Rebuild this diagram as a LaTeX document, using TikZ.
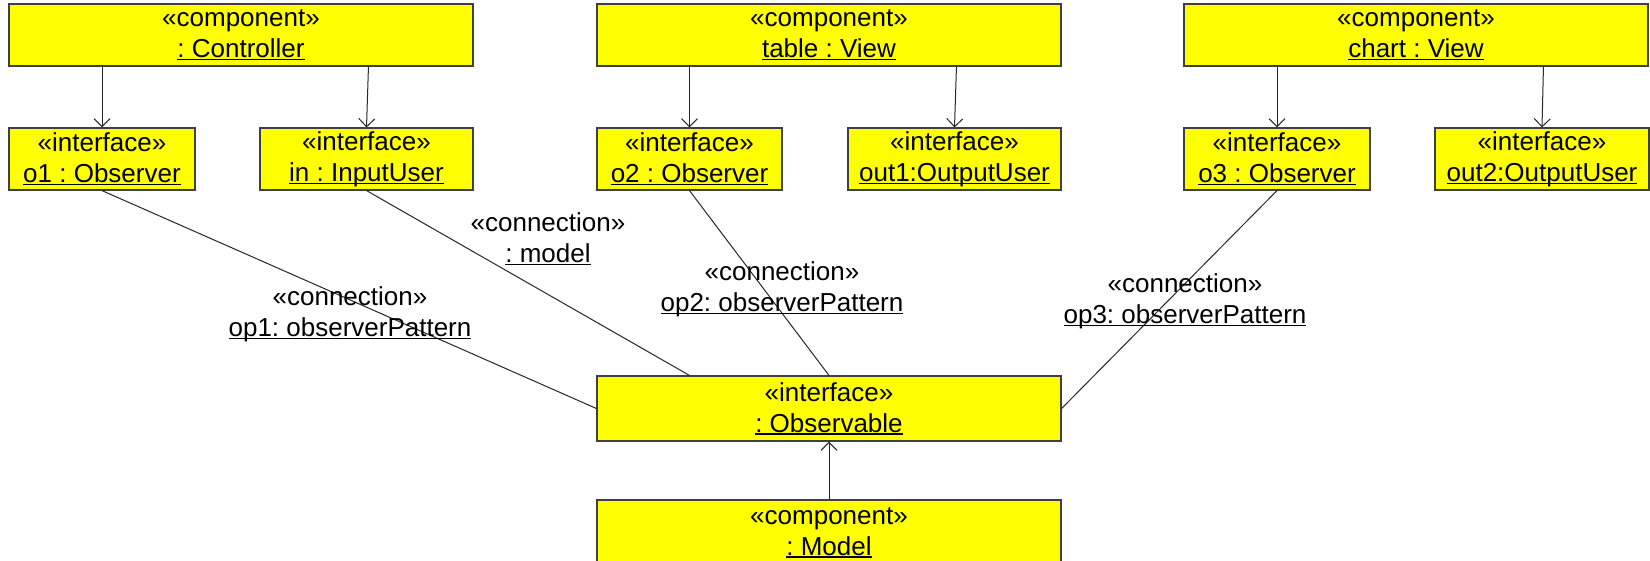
\documentclass[tikz,border=0pt]{standalone}
\usepackage{fontspec}
\setmainfont{Liberation Sans}
\usetikzlibrary{arrows.meta,calc}
\definecolor{umlyellow}{RGB}{255,255,0}
\frenchspacing
\newsavebox\ulbox
\newcommand{\ulin}[1]{\sbox\ulbox{#1}\rlap{\rule[-1.4pt]{\wd\ulbox}{0.7pt}}\usebox\ulbox}
\newcommand{\fs}{\fontsize{13}{15.5}\selectfont\frenchspacing}
\tikzset{
  umlbox/.style={draw=black!75, fill=umlyellow, line width=0.6pt, inner sep=0pt,
    align=center, font=\fs, minimum height=31pt},
  comp/.style={umlbox, minimum width=232pt},
  lbl/.style={align=center, font=\fs, inner sep=0pt},
  conn/.style={draw=black!85, line width=0.5pt},
  arr/.style={conn, -{Straight Barb[length=4pt,width=8pt]}}
}
\begin{document}
\begin{tikzpicture}[x=0.5pt,y=-0.5pt]
\useasboundingbox (0,0) rectangle (1650,561);
% components
\node[comp] (ctrl)  at (241,35)  {«component»\\\ulin{: Controller}};
\node[comp] (table) at (829,35)  {«component»\\\ulin{table : View}};
\node[comp] (chart) at (1416,35) {«component»\\\ulin{chart : View}};
% interfaces
\node[umlbox, minimum width=93pt]   (o1)   at (102,159)   {«interface»\\\ulin{o1 : Observer}};
\node[umlbox, minimum width=106.5pt] (in)  at (366.5,159) {«interface»\\\ulin{in : InputUser}};
\node[umlbox, minimum width=92.5pt] (o2)   at (689.5,159) {«interface»\\\ulin{o2 : Observer}};
\node[umlbox, minimum width=106.5pt] (out1) at (954.5,159) {«interface»\\\ulin{out1:OutputUser}};
\node[umlbox, minimum width=93pt]   (o3)   at (1277,159)  {«interface»\\\ulin{o3 : Observer}};
\node[umlbox, minimum width=107pt]  (out2) at (1542,159)  {«interface»\\\ulin{out2:OutputUser}};
\node[comp, minimum height=32.5pt] (obs)   at (829,408.5) {«interface»\\\ulin{: Observable}};
\node[comp, minimum height=32.5pt] (model) at (829,532.5) {«component»\\\ulin{: Model}};
% arrows from components to interfaces
\draw[arr] (o1.north |- ctrl.south) -- (o1.north);
\draw[arr] ($(ctrl.south west)!0.774!(ctrl.south east)$) -- (in.north);
\draw[arr] (o2.north |- table.south) -- (o2.north);
\draw[arr] ($(table.south west)!0.774!(table.south east)$) -- (out1.north);
\draw[arr] (o3.north |- chart.south) -- (o3.north);
\draw[arr] ($(chart.south west)!0.774!(chart.south east)$) -- (out2.north);
% connections
\draw[conn] (o1.south) -- (obs.west);
\draw[conn] (in.south) -- ($(obs.north west)!0.2!(obs.north east)$);
\draw[conn] (o2.south) -- (obs.north);
\draw[conn] (o3.south) -- (obs.east);
\draw[arr] (model.north) -- (obs.south);
% labels
\node[lbl] (l1) at (350,314)  {«connection»\\\ulin{op1: observerPattern}};
\node[lbl] (lm) at (548,239)  {«connection»\\\ulin{: model}};
\node[lbl] (l2) at (782,289)  {«connection»\\\ulin{op2: observerPattern}};
\node[lbl] (l3) at (1185,301) {«connection»\\\ulin{op3: observerPattern}};
\end{tikzpicture}
\end{document}
